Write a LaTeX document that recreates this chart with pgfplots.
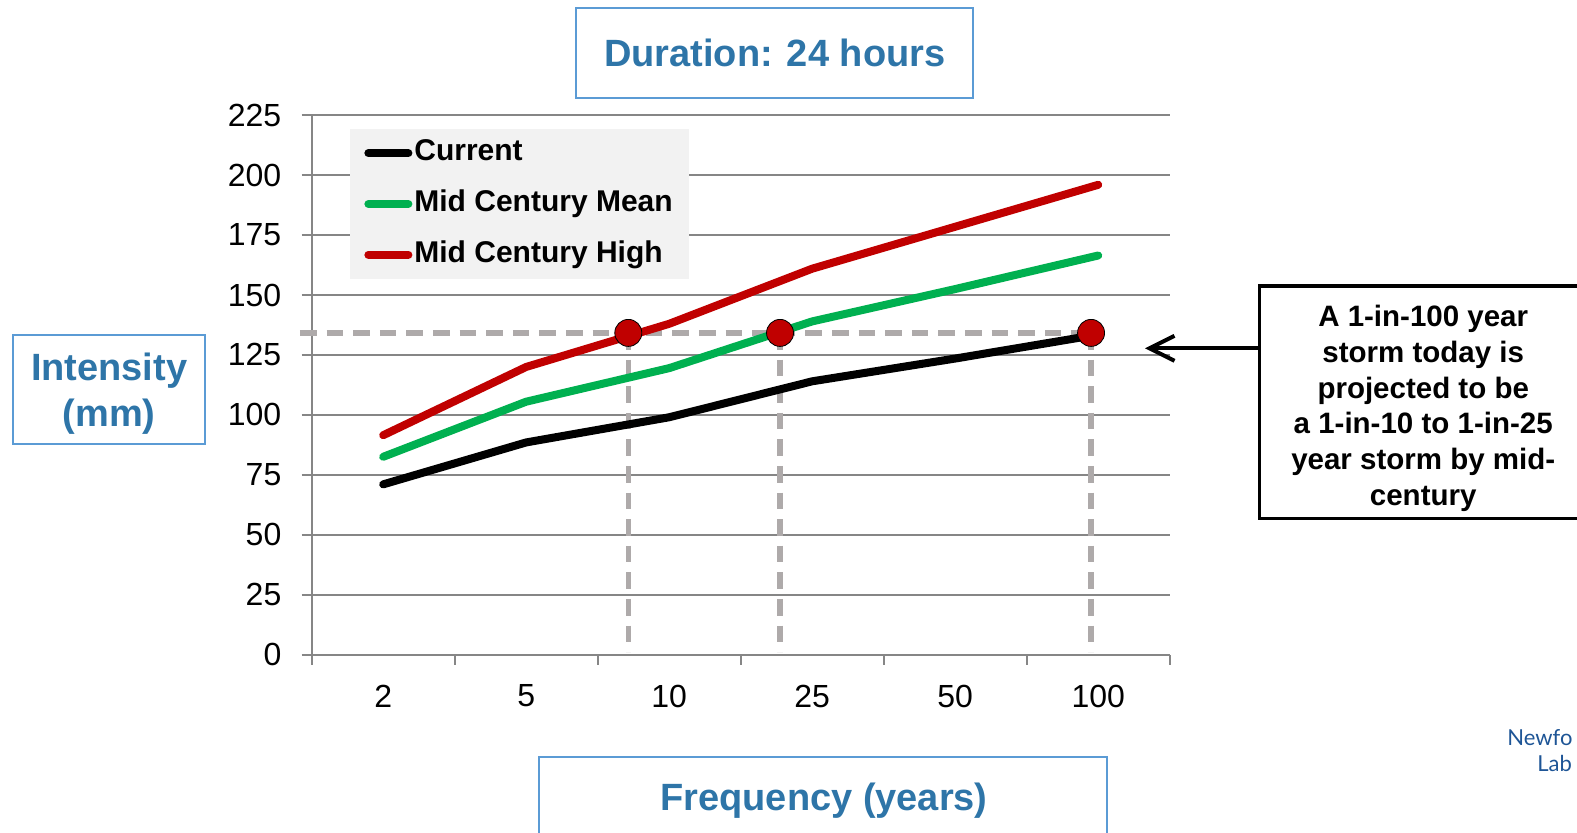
\documentclass[border=0pt]{standalone}
\usepackage{pgfplots}
\pgfplotsset{compat=1.18}
\usepackage{fontspec}
\setmainfont{Liberation Sans}
\newfontfamily\logofont{Lato}
\usetikzlibrary{arrows.meta}
\definecolor{ttlblue}{RGB}{46,117,168}
\definecolor{boxblue}{RGB}{91,155,213}
\definecolor{gridgray}{RGB}{134,134,134}
\definecolor{dashgray}{RGB}{174,170,170}
\definecolor{cgreen}{RGB}{0,176,80}
\definecolor{cred}{RGB}{192,0,0}
\definecolor{legfill}{RGB}{242,242,242}
\definecolor{logoblue}{RGB}{30,85,150}
\begin{document}
\begin{tikzpicture}
\path[use as bounding box] (0pt,0pt) rectangle (788.5pt,416pt);
\begin{axis}[
  at={(155.85pt,88.75pt)}, anchor=south west,
  width=429pt, height=269.6pt, scale only axis,
  xmin=-0.5, xmax=5.5, ymin=0, ymax=225,
  clip=false,
  axis x line*=bottom, axis y line*=left,
  axis line style={-, draw=gridgray, line width=1pt},
  ytick={0,25,...,225},
  xtick={-0.5,0.5,1.5,2.5,3.5,4.5,5.5},
  xticklabels={2,5,10,25,50,100,},
  tick align=outside, major tick length=5pt,
  tick style={draw=gridgray, line width=1pt},
  ymajorgrids, grid style={draw=gridgray, line width=1pt},
  /pgf/number format/assume math mode=true,
  tick label style={font=\fontsize{16}{18}\selectfont, text=black, inner sep=0pt},
  xticklabel style={anchor=north, xshift=35.75pt, yshift=-10pt},
  yticklabel style={anchor=east, xshift=-10pt},
  legend image code/.code={\draw[#1, line cap=round] (2pt,0pt) -- (22pt,0pt);},
  legend style={at={(0.0446,0.976)}, anchor=north west, fill=legfill, draw=none,
    font=\bfseries\fontsize{15}{16}\selectfont, inner xsep=7pt, inner ysep=4.5pt,
    row sep=9.9pt, cells={anchor=west},
    nodes={inner sep=1pt, text height=10.5pt, text depth=3pt}},
]
% reference dashed lines
\addplot[forget plot, dashgray, line width=2.7pt, dash pattern=on 8.3pt off 5pt] coordinates {(-0.582,134.2) (4.95,134.2)};
\addplot[forget plot, dashgray, line width=2.7pt, dash pattern=on 8.3pt off 5pt] coordinates {(1.714,134.2) (1.714,1)};
\addplot[forget plot, dashgray, line width=2.7pt, dash pattern=on 8.3pt off 5pt] coordinates {(2.775,134.2) (2.775,1)};
\addplot[forget plot, dashgray, line width=2.7pt, dash pattern=on 8.3pt off 5pt] coordinates {(4.95,134.2) (4.95,1)};
% series
\addplot[black, line width=4pt, line cap=round, line join=round] coordinates {(0,71) (1,88.5) (2,99) (3,114) (4,123.5) (5,133.5)};
\addlegendentry{Current}
\addplot[cgreen, line width=4pt, line cap=round, line join=round] coordinates {(0,82.5) (1,105.5) (2,119.5) (3,139) (4,152.5) (5,166.5)};
\addlegendentry{Mid Century Mean}
\addplot[cred, line width=4pt, line cap=round, line join=round] coordinates {(0,91.5) (1,120) (2,138) (3,161) (4,178.5) (5,196)};
\addlegendentry{Mid Century High}
% crossing points
\addplot[forget plot, only marks, mark=*, mark size=6.75pt, mark options={fill=cred, draw=none}] coordinates {(1.714,134.2) (2.775,134.2) (4.95,134.2)};
\end{axis}
% title box
\draw[boxblue, line width=1pt] (288pt,367.15pt) rectangle (486.65pt,411.85pt);
\node[anchor=base, text=ttlblue, font=\bfseries\fontsize{19}{22}\selectfont, inner sep=0pt] at (387.35pt,382.65pt) {Duration: 24 hours};
% y label box
\draw[boxblue, line width=1pt] (6.65pt,194pt) rectangle (102.5pt,248.5pt);
\node[anchor=base, text=ttlblue, font=\bfseries\fontsize{19}{22}\selectfont, inner sep=0pt] at (54.6pt,226pt) {Intensity};
\node[anchor=base, text=ttlblue, font=\bfseries\fontsize{19}{22}\selectfont, inner sep=0pt] at (54.6pt,203pt) {(mm)};
% x label box
\draw[boxblue, line width=1pt] (269.5pt,-5pt) rectangle (553.5pt,37.5pt);
\node[anchor=base, text=ttlblue, font=\bfseries\fontsize{19}{22}\selectfont, inner sep=0pt] at (412pt,11pt) {Frequency (years)};
% annotation
\draw[black, line width=1.65pt] (629.65pt,156.85pt) rectangle (800pt,273pt);
\draw[black, line width=2pt, -{Straight Barb[length=12.5pt, width=12.5pt, line width=2pt]}] (629.65pt,241.85pt) -- (572.5pt,241.85pt);
\begin{scope}[every node/.style={anchor=base, inner sep=0pt, font=\bfseries\fontsize{14.75}{18}\selectfont}]
\node at (711.6pt,252.6pt) {A 1-in-100 year};
\node at (711.6pt,234.8pt) {storm today is};
\node at (711.6pt,216.95pt) {projected to be};
\node at (711.6pt,199.15pt) {a 1-in-10 to 1-in-25};
\node at (711.6pt,181.3pt) {year storm by mid-};
\node at (711.6pt,163.5pt) {century};
\end{scope}
% logo, cut off at the page edge in the reference
\node[anchor=base west, text=logoblue, font=\logofont\fontsize{11}{13}\selectfont, inner sep=0pt] at (753.5pt,43.5pt) {Newfo};
\node[anchor=base west, text=logoblue, font=\logofont\fontsize{11}{13}\selectfont, inner sep=0pt] at (768.5pt,30.15pt) {Lab};
\end{tikzpicture}
\end{document}
